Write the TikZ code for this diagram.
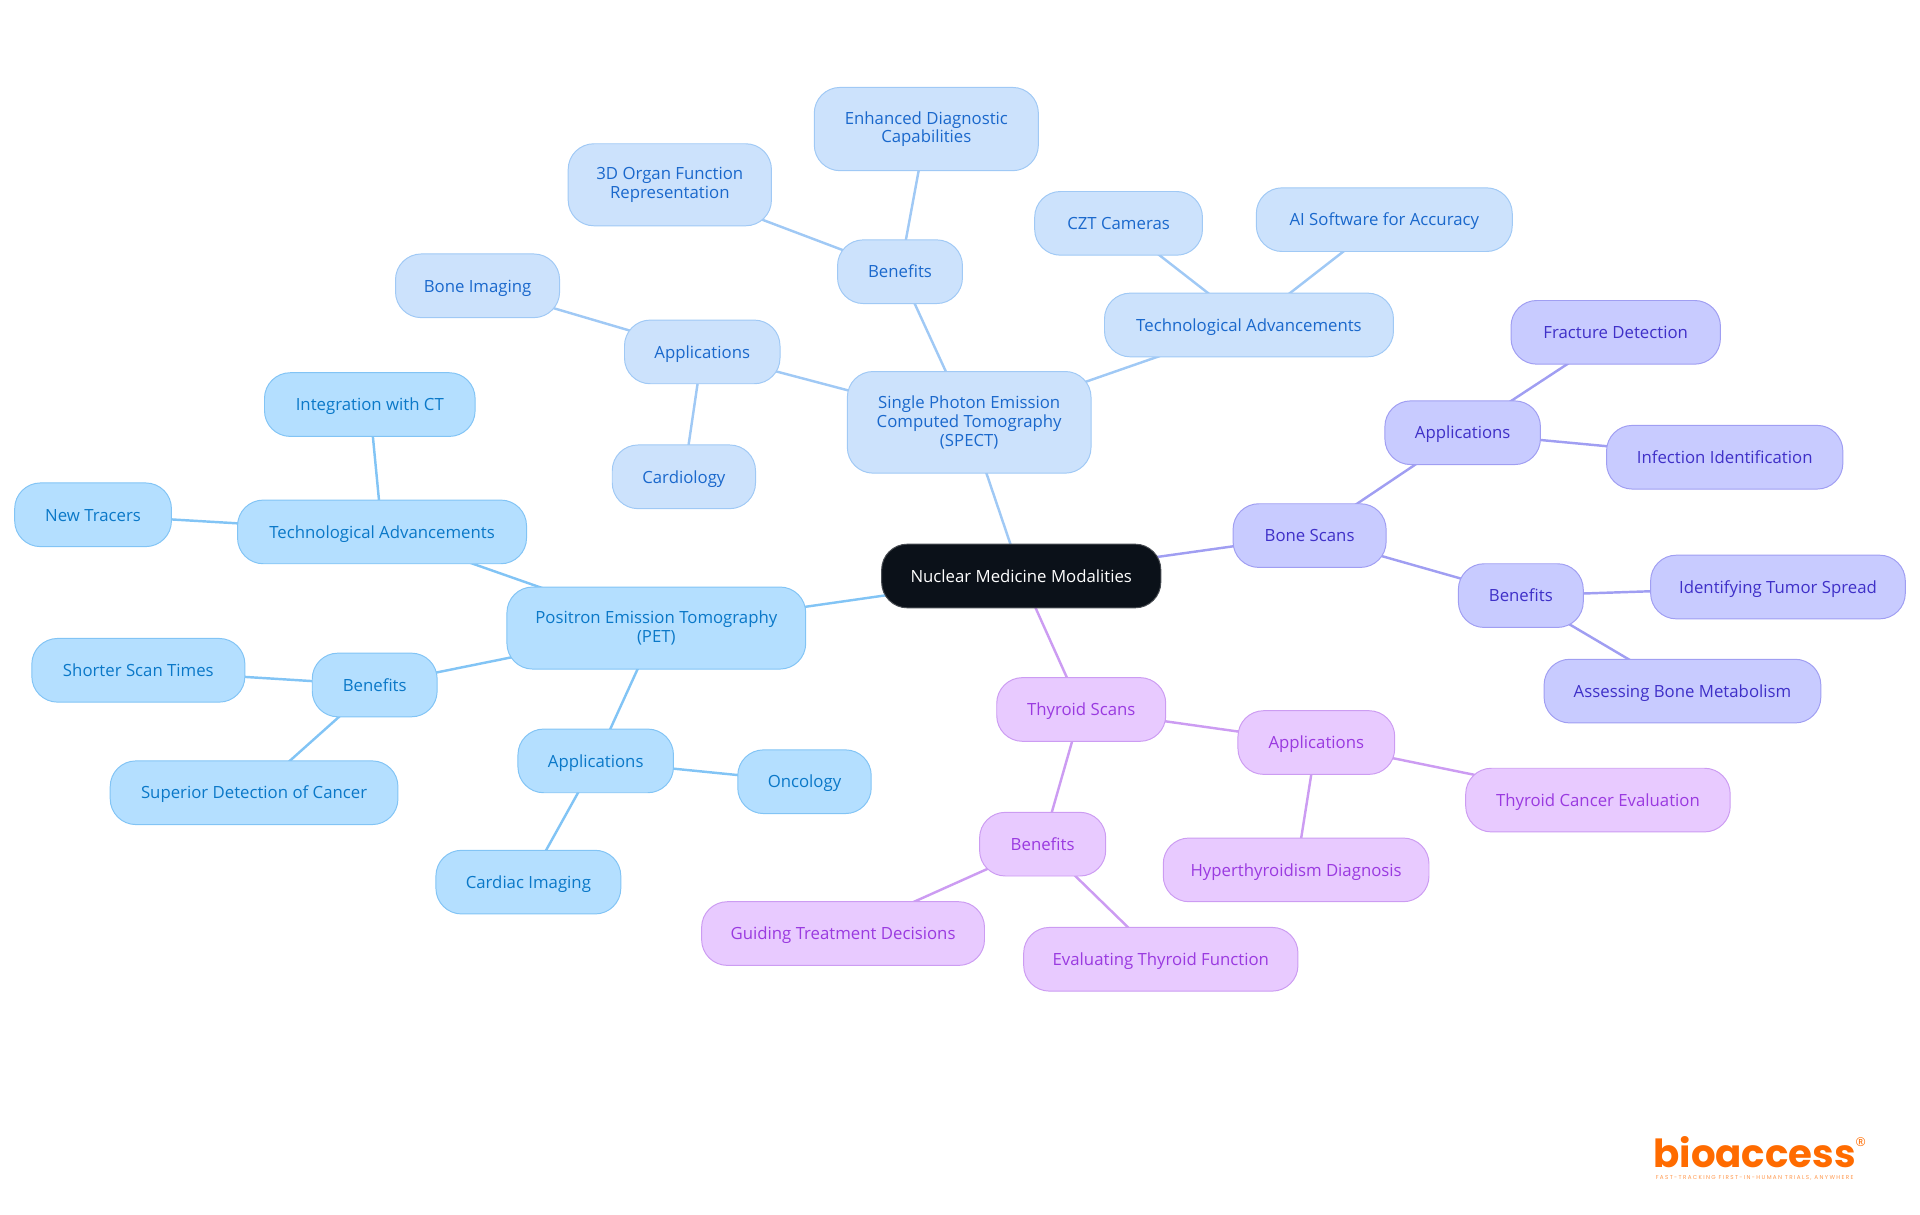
\documentclass[tikz,border=0pt]{standalone}
\usepackage{fontspec}
\setmainfont{Open Sans}
\newfontfamily\logofont{Poppins}
\newfontfamily\tagfont[LetterSpace=24]{Poppins}
\usetikzlibrary{backgrounds}
\definecolor{specfill}{HTML}{CCE2FC}
\definecolor{specline}{HTML}{A0C9F5}
\definecolor{spectext}{HTML}{1A68CC}
\definecolor{petfill}{HTML}{B4DFFF}
\definecolor{petline}{HTML}{82C4F5}
\definecolor{pettext}{HTML}{0A78C8}
\definecolor{bonefill}{HTML}{C8CBFF}
\definecolor{boneline}{HTML}{A09EF2}
\definecolor{bonetext}{HTML}{3F30C8}
\definecolor{thyfill}{HTML}{E8CAFF}
\definecolor{thyline}{HTML}{CC9CF2}
\definecolor{thytext}{HTML}{9A3AE0}
\definecolor{rootfill}{HTML}{0B1119}
\definecolor{logoorange}{HTML}{FF6B00}
\tikzset{
    mapnode/.style={rounded corners=21pt, align=center, inner sep=0pt, minimum height=52pt, yshift=-.4pt,
        line width=.8pt, text height=13.2pt, text depth=3pt, font=\fontsize{13.7}{15.3}\selectfont},
    multiline/.style={text height=, text depth=},
    rootbox/.style={mapnode, fill=rootfill, draw=rootfill!75!white, text=white},
    specbox/.style={mapnode, fill=specfill, draw=specline, text=spectext},
    petbox/.style={mapnode, fill=petfill, draw=petline, text=pettext},
    bonebox/.style={mapnode, fill=bonefill, draw=boneline, text=bonetext},
    thybox/.style={mapnode, fill=thyfill, draw=thyline, text=thytext},
    linkline/.style={line width=2pt},
}
\begin{document}
\begin{tikzpicture}[x=1pt, y=-1pt]
    \useasboundingbox (0,0) rectangle (1568,992.2);

    \node[rootbox, minimum width=228pt] (root) at (834,470) {Nuclear Medicine Modalities};

    % SPECT
    \node[specbox, multiline, minimum width=199pt, minimum height=83pt] (spect) at (791.5,344.5) {Single Photon Emission\\Computed Tomography\\(SPECT)};
    \node[specbox, minimum width=102pt] (specben) at (735,221.5) {Benefits};
    \node[specbox, multiline, minimum width=183pt, minimum height=68pt] (enhanced) at (756.5,105) {Enhanced Diagnostic\\Capabilities};
    \node[specbox, multiline, minimum width=166pt, minimum height=67pt] (organ) at (547,150.5) {3D Organ Function\\Representation};
    \node[specbox, minimum width=127pt] (specapp) at (573.5,287) {Applications};
    \node[specbox, minimum width=134pt] (boneimg) at (390,233) {Bone Imaging};
    \node[specbox, minimum width=117pt] (cardio) at (558.5,389) {Cardiology};
    \node[specbox, minimum width=236pt] (spectech) at (1020,265) {Technological Advancements};
    \node[specbox, minimum width=137pt] (czt) at (913.5,182) {CZT Cameras};
    \node[specbox, minimum width=209pt] (aisoft) at (1130.5,179) {AI Software for Accuracy};

    % PET
    \node[petbox, multiline, minimum width=244pt, minimum height=67pt] (pet) at (536,512.5) {Positron Emission Tomography\\(PET)};
    \node[petbox, minimum width=236pt] (pettech) at (312,434) {Technological Advancements};
    \node[petbox, minimum width=172pt] (integ) at (302,330) {Integration with CT};
    \node[petbox, minimum width=128pt] (tracers) at (76,420) {New Tracers};
    \node[petbox, minimum width=102pt] (petben) at (306,559) {Benefits};
    \node[petbox, minimum width=174pt] (shorter) at (113,547) {Shorter Scan Times};
    \node[petbox, minimum width=235pt] (superior) at (207.5,647) {Superior Detection of Cancer};
    \node[petbox, minimum width=127pt] (petapp) at (486.5,621) {Applications};
    \node[petbox, minimum width=109pt] (onco) at (657,638) {Oncology};
    \node[petbox, minimum width=151pt] (cardiac) at (431.5,720) {Cardiac Imaging};

    % bone scans
    \node[bonebox, minimum width=125pt] (bone) at (1069.5,437) {Bone Scans};
    \node[bonebox, minimum width=127pt] (boneapp) at (1194.5,353) {Applications};
    \node[bonebox, minimum width=171pt] (fracture) at (1319.5,271) {Fracture Detection};
    \node[bonebox, minimum width=193pt] (infect) at (1408.5,373) {Infection Identification};
    \node[bonebox, minimum width=102pt] (boneben) at (1242,486) {Benefits};
    \node[bonebox, minimum width=208pt] (tumor) at (1452,479) {Identifying Tumor Spread};
    \node[bonebox, minimum width=226pt] (metab) at (1374,564) {Assessing Bone Metabolism};

    % thyroid scans
    \node[thybox, minimum width=138pt] (thyroid) at (883,579) {Thyroid Scans};
    \node[thybox, minimum width=128pt] (thyapp) at (1075,606) {Applications};
    \node[thybox, minimum width=216pt] (thycancer) at (1305,653) {Thyroid Cancer Evaluation};
    \node[thybox, minimum width=217pt] (hyper) at (1058.5,710) {Hyperthyroidism Diagnosis};
    \node[thybox, minimum width=103pt] (thyben) at (851.5,689) {Benefits};
    \node[thybox, minimum width=231pt] (guiding) at (688.5,762) {Guiding Treatment Decisions};
    \node[thybox, minimum width=224pt] (evalthy) at (948,783) {Evaluating Thyroid Function};

    \begin{scope}[on background layer]
        \foreach \a/\b in {root/spect, spect/specben, specben/enhanced, specben/organ, spect/specapp,
            specapp/boneimg, specapp/cardio, spect/spectech, spectech/czt, spectech/aisoft}
        {
            \draw[linkline, specline] (\a.center)--(\b.center);
        }
        \foreach \a/\b in {root/pet, pet/pettech, pettech/integ, pettech/tracers, pet/petben,
            petben/shorter, petben/superior, pet/petapp, petapp/onco, petapp/cardiac}
        {
            \draw[linkline, petline] (\a.center)--(\b.center);
        }
        \foreach \a/\b in {root/bone, bone/boneapp, boneapp/fracture, boneapp/infect, bone/boneben,
            boneben/tumor, boneben/metab}
        {
            \draw[linkline, boneline] (\a.center)--(\b.center);
        }
        \foreach \a/\b in {root/thyroid, thyroid/thyapp, thyapp/thycancer, thyapp/hyper, thyroid/thyben,
            thyben/guiding, thyben/evalthy}
        {
            \draw[linkline, thyline] (\a.center)--(\b.center);
        }
    \end{scope}

    % logo
    \node[anchor=base west, inner sep=0pt, text=logoorange, font=\logofont\bfseries\fontsize{31.6}{32}\selectfont] (logo) at (1350,953.5) {bioaccess};
    \node[text=logoorange, inner sep=0pt, font=\fontsize{10}{10}\selectfont] (regmark) at (1519.5,932.5) {®};
    \node[anchor=base west, inner sep=0pt, text=logoorange!70!white, font=\tagfont\fontsize{4.6}{5}\selectfont] (tagline) at (1352,963) {FAST-TRACKING FIRST-IN-HUMAN TRIALS, ANYWHERE};
\end{tikzpicture}
\end{document}
